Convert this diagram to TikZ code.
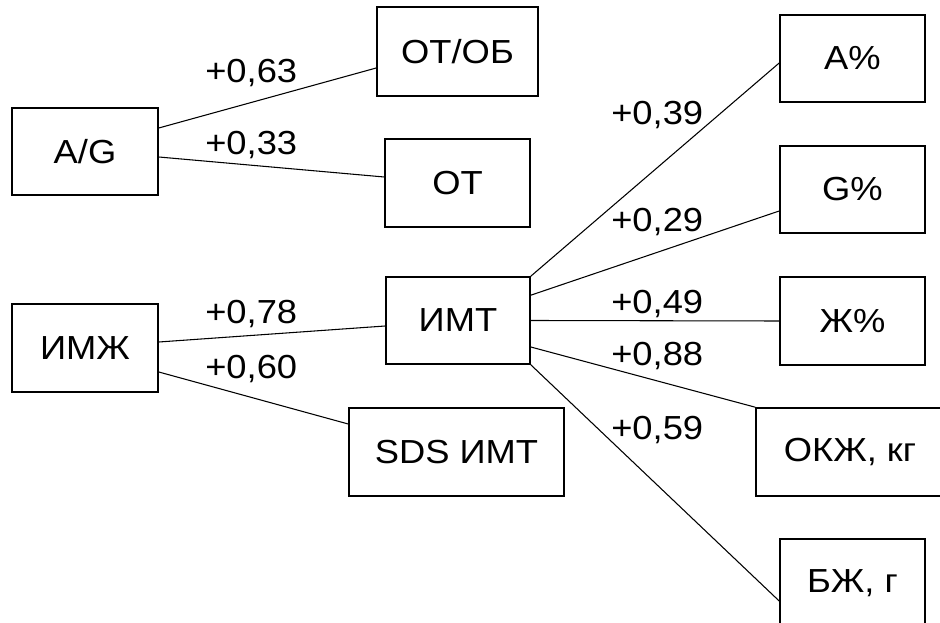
\documentclass[tikz,border=0pt]{standalone}
\usepackage{fontspec}
\setmainfont{Liberation Sans}[FakeStretch=1.09]
\usetikzlibrary{calc}
\begin{document}
\begin{tikzpicture}[x=0.75pt,y=-0.75pt,
  box/.style={draw=black,line width=1.2pt,rectangle,inner sep=0pt,font=\fontsize{25}{28}\selectfont,text=black},
  conn/.style={draw=black,line width=0.8pt},
  val/.style={inner sep=0pt,anchor=base west,font=\fontsize{25}{28}\selectfont,text=black}]
\useasboundingbox (0,0) rectangle (940,623);
\clip (0,0) rectangle (940,623);
% boxes
\node[box,minimum width=109.5pt,minimum height=65.25pt] (ag) at (85,151.5) {A/G};
\node[box,minimum width=120.75pt,minimum height=66.75pt] (otob) at (457.5,51.5) {ОТ/ОБ};
\node[box,minimum width=108.75pt,minimum height=66pt] (ot) at (457.5,183) {ОТ};
\node[box,minimum width=109.5pt,minimum height=66pt] (imzh) at (85,348) {ИМЖ};
\node[box,minimum width=108pt,minimum height=65.25pt] (imt) at (458,320.5) {ИМТ};
\node[box,minimum width=161.25pt,minimum height=66pt] (sds) at (456.5,452) {SDS ИМТ};
\node[box,minimum width=108.75pt,minimum height=65.25pt] (a) at (852.5,58.5) {A\%};
\node[box,minimum width=108.75pt,minimum height=65.25pt] (g) at (852.5,189.5) {G\%};
\node[box,minimum width=108.75pt,minimum height=66pt] (zh) at (852.5,321) {Ж\%};
\node[box,minimum width=141pt,minimum height=66pt] (okzh) at (850,452) {ОКЖ, кг};
\node[box,minimum width=108.75pt,minimum height=66pt] (bzh) at (852.5,583) {БЖ, г};
% connectors
\draw[conn] ($(ag.east)+(0,-23.5)$) -- ($(otob.west)+(0,16.5)$);
\draw[conn] ($(ag.east)+(0,5.5)$) -- ($(ot.west)+(0,-6)$);
\draw[conn] ($(imzh.east)+(0,-6)$) -- ($(imt.west)+(0,5.5)$);
\draw[conn] ($(imzh.east)+(0,24)$) -- ($(sds.west)+(0,-28)$);
\draw[conn] (imt.north east) -- ($(a.west)+(0,4.5)$);
\draw[conn] ($(imt.north east)+(0,19)$) -- ($(g.west)+(0,21.5)$);
\draw[conn] (imt.east) -- (zh.west);
\draw[conn] ($(imt.east)+(0,26.5)$) -- (okzh.north west);
\draw[conn] (imt.south east) -- ($(bzh.west)+(0,18)$);
% values
\node[val] (v1) at (205,83) {+0,63};
\node[val] (v2) at (205,155) {+0,33};
\node[val] (v3) at (205,324) {+0,78};
\node[val] (v4) at (205,379) {+0,60};
\node[val] (v5) at (611,125) {+0,39};
\node[val] (v6) at (611,232) {+0,29};
\node[val] (v7) at (611,314) {+0,49};
\node[val] (v8) at (611,366) {+0,88};
\node[val] (v9) at (611,440) {+0,59};
\end{tikzpicture}
\end{document}
